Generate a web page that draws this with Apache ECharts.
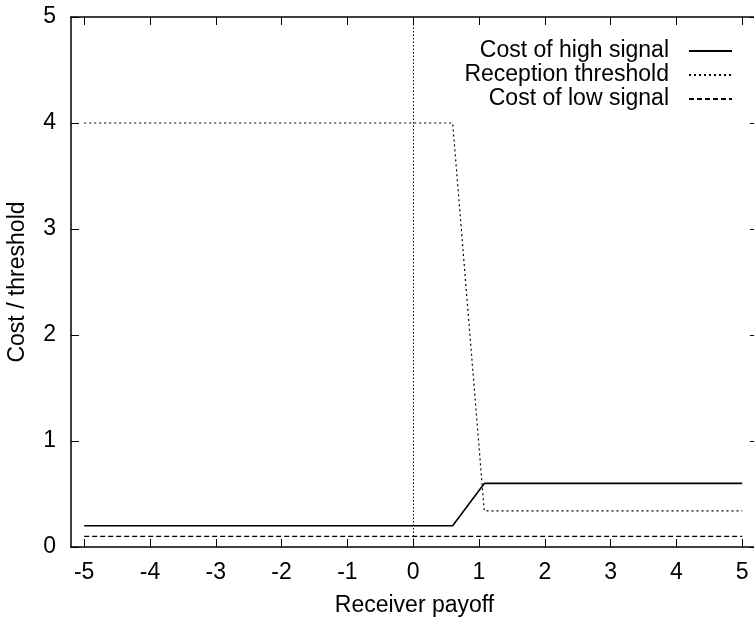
<!DOCTYPE html>
<html>
<head>
<meta charset="utf-8">
<script src="https://cdn.jsdelivr.net/npm/echarts@6/dist/echarts.min.js"></script>
<style>html,body{margin:0;padding:0;background:#fff}#c{width:754px;height:620px}</style>
</head>
<body>
<div id="c"></div>
<script>
var xTicks = [-5, -4, -3, -2, -1, 0, 1, 2, 3, 4, 5];
var yTicks = [0, 1, 2, 3, 4, 5];
var xPoints = [-5, 0.6, 1.08, 5];
var costHigh = [0.2, 0.2, 0.6, 0.6];
var threshold = [4, 4, 0.34, 0.34];
var lowX = [-5, 5];
var costLow = [0.1, 0.1];
var names = ['Cost of high signal', 'Reception threshold', 'Cost of low signal'];

function pairs(xs, ys) { return xs.map(function (x, i) { return [x, ys[i]]; }); }

var font = 'Liberation Sans, Arial, sans-serif';
var fs = 23;
var chart = echarts.init(document.getElementById('c'));
var axisCommon = {
  axisLine: { show: true, onZero: false, lineStyle: { color: '#000', width: 1.5 } },
  axisTick: { show: true, inside: true, length: 8, lineStyle: { color: '#000', width: 1 } },
  splitLine: { show: false }
};
chart.setOption({
  animation: false,
  backgroundColor: '#fff',
  grid: { left: 71, top: 17, width: 687, height: 530, containLabel: false, outerBoundsMode: 'none' },
  legend: {
    right: 21, top: 39, orient: 'vertical', align: 'right', padding: 0,
    itemWidth: 43, itemHeight: 14, itemGap: 0,
    itemStyle: { opacity: 0 },
    textStyle: { fontFamily: font, fontSize: fs, color: '#000', lineHeight: 24, padding: [0, 15, 0, 0] },
    data: names
  },
  xAxis: [
    Object.assign({}, axisCommon, {
      type: 'value', min: -5.2, max: 5.24, position: 'bottom',
      axisTick: Object.assign({}, axisCommon.axisTick, { customValues: xTicks }),
      axisLabel: { customValues: xTicks, margin: 14, fontFamily: font, fontSize: fs, color: '#000' },
      name: 'Receiver payoff', nameLocation: 'middle', nameGap: 47,
      nameTextStyle: { fontFamily: font, fontSize: fs, color: '#000' }
    }),
    Object.assign({}, axisCommon, {
      type: 'value', min: -5.2, max: 5.24, position: 'top',
      axisTick: Object.assign({}, axisCommon.axisTick, { customValues: xTicks }),
      axisLabel: { show: false }
    })
  ],
  yAxis: [
    Object.assign({}, axisCommon, {
      type: 'value', min: 0, max: 5, interval: 1, position: 'left',
      axisTick: Object.assign({}, axisCommon.axisTick, { customValues: yTicks }),
      axisLabel: { customValues: yTicks, margin: 15, fontFamily: font, fontSize: fs, color: '#000' },
      name: 'Cost / threshold', nameLocation: 'middle', nameGap: 42,
      nameTextStyle: { fontFamily: font, fontSize: fs, color: '#000' }
    }),
    Object.assign({}, axisCommon, {
      type: 'value', min: 0, max: 5, interval: 1, position: 'right',
      axisTick: Object.assign({}, axisCommon.axisTick, { customValues: yTicks }),
      axisLabel: { show: false }
    })
  ],
  series: [
    {
      name: names[0], type: 'line', symbol: 'none', data: pairs(xPoints, costHigh),
      lineStyle: { color: '#000', width: 1.6, type: 'solid' }, itemStyle: { color: '#000' },
      markLine: {
        silent: true, symbol: 'none', label: { show: false },
        lineStyle: { color: '#000', width: 1, type: [1.5, 2] },
        data: [{ xAxis: 0 }]
      }
    },
    {
      name: names[1], type: 'line', symbol: 'none', data: pairs(xPoints, threshold),
      lineStyle: { color: '#000', width: 1.2, type: [2, 3] }, itemStyle: { color: '#000' }
    },
    {
      name: names[2], type: 'line', symbol: 'none', data: pairs(lowX, costLow),
      lineStyle: { color: '#000', width: 1.2, type: [5, 3] }, itemStyle: { color: '#000' }
    }
  ]
});
</script>
</body>
</html>
